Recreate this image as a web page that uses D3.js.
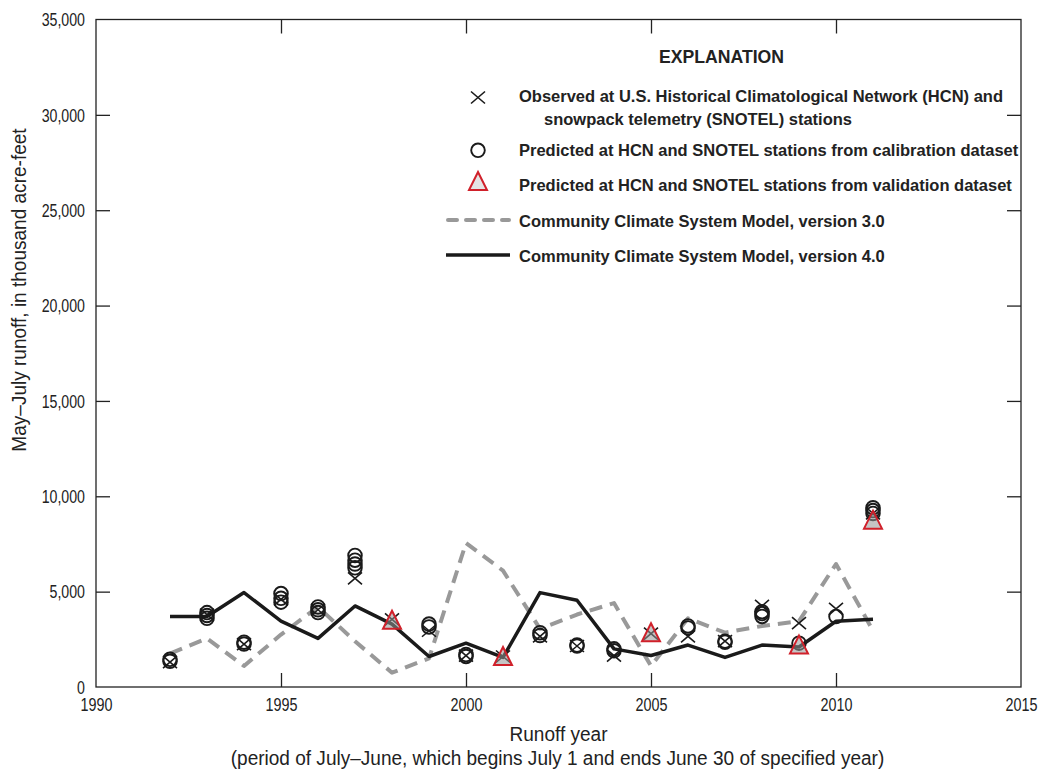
<!DOCTYPE html>
<html>
<head>
<meta charset="utf-8">
<script src="https://cdn.jsdelivr.net/npm/d3@7"></script>
<style>
  html, body { margin: 0; padding: 0; background: #fff; }
  svg { display: block; }
  text { font-family: "Liberation Sans", Arial, sans-serif; }
</style>
</head>
<body>
<svg id="chart" width="1039" height="769"></svg>
<script>
// Runoff years
const years = [1992, 1993, 1994, 1995, 1996, 1997, 1998, 1999, 2000, 2001,
               2002, 2003, 2004, 2005, 2006, 2007, 2008, 2009, 2010, 2011];

// Observed May–July runoff (thousand acre-feet)
const observed = [1300, 3800, 2250, 4600, 4050, 5700, 3550, 2950, 1650, 1600,
                  2650, 2150, 1650, 2800, 2650, 2400, 4250, 3350, 4100, 9100];

// Predicted from calibration dataset (several station models per year)
const calibYears = [1992, 1992, 1993, 1993, 1993, 1994, 1994, 1995, 1995, 1995,
                    1996, 1996, 1996, 1997, 1997, 1997, 1997, 1999, 1999, 2000,
                    2000, 2002, 2002, 2003, 2003, 2004, 2004, 2006, 2006, 2007,
                    2007, 2008, 2008, 2008, 2009, 2010, 2011, 2011, 2011];
const calibValues = [1350, 1450, 3600, 3750, 3900, 2250, 2350, 4450, 4650, 4900,
                     3900, 4050, 4200, 6250, 6450, 6650, 6900, 3150, 3300, 1600,
                     1700, 2700, 2850, 2150, 2200, 1900, 2000, 3100, 3200, 2350,
                     2400, 3700, 3850, 3950, 2300, 3700, 9100, 9250, 9400];

// Predicted from validation dataset
const validYears = [1998, 2001, 2005, 2009, 2011];
const validValues = [3500, 1600, 2850, 2200, 8750];

// Community Climate System Model runs
const ccsm3 = [1750, 2550, 1100, 2750, 4200, 2400, 750, 1500, 7550, 6100,
               3050, 3800, 4400, 1100, 3600, 2850, 3200, 3450, 6450, 2950];
const ccsm4 = [3700, 3700, 4950, 3450, 2550, 4250, 3300, 1600, 2300, 1550,
               4950, 4550, 2000, 1650, 2200, 1550, 2200, 2100, 3450, 3550];

// Axis ticks
const xTicks = [1990, 1995, 2000, 2005, 2010, 2015];
const yTicks = [0, 5000, 10000, 15000, 20000, 25000, 30000, 35000];

const svg = d3.select("#chart");
const W = 1039, H = 769;
const margin = { left: 96, right: 18, top: 19.5, bottom: 82 };
const ink = "#222";

const x = d3.scaleLinear().domain([1990, 2015]).range([margin.left, W - margin.right]);
const y = d3.scaleLinear().domain([0, 35000]).range([H - margin.bottom, margin.top]);

const fmt = d3.format(",");
const tickLen = 14;

// squeeze text elements horizontally for a condensed face
function condense(sel, k) {
  sel.each(function () {
    const w = this.getComputedTextLength();
    d3.select(this).attr("textLength", w * k).attr("lengthAdjust", "spacingAndGlyphs");
  });
}

// Frame
svg.append("rect")
  .attr("x", x(1990)).attr("y", y(35000))
  .attr("width", x(2015) - x(1990)).attr("height", y(0) - y(35000))
  .attr("fill", "none").attr("stroke", ink).attr("stroke-width", 1.3);

// Axes with inward ticks on all four sides
const gx = svg.append("g")
  .attr("transform", `translate(0,${y(0)})`)
  .call(d3.axisBottom(x).tickValues(xTicks).tickFormat(d3.format("d")).tickSize(-tickLen).tickPadding(12));
const gxTop = svg.append("g")
  .attr("transform", `translate(0,${y(35000)})`)
  .call(d3.axisTop(x).tickValues(xTicks).tickFormat("").tickSize(-tickLen));
const gy = svg.append("g")
  .attr("transform", `translate(${x(1990)},0)`)
  .call(d3.axisLeft(y).tickValues(yTicks).tickFormat(fmt).tickSize(-tickLen).tickPadding(11));
const gyR = svg.append("g")
  .attr("transform", `translate(${x(2015)},0)`)
  .call(d3.axisRight(y).tickValues(yTicks).tickFormat("").tickSize(-tickLen));

[gx, gxTop, gy, gyR].forEach(g => {
  g.select(".domain").remove();
  g.selectAll(".tick line").attr("stroke", ink).attr("stroke-width", 1.3);
  g.selectAll(".tick text").attr("fill", ink).attr("font-family", null).style("font-size", "17.5px");
});
gy.selectAll(".tick text").attr("dy", "0.36em");
condense(gx.selectAll(".tick text"), 0.82);
condense(gy.selectAll(".tick text"), 0.81);

// endpoint ticks coincide with the frame
[gx, gxTop].forEach(g => g.selectAll(".tick").filter(d => d === 1990 || d === 2015).select("line").remove());
[gy, gyR].forEach(g => g.selectAll(".tick").filter(d => d === 0 || d === 35000).select("line").remove());

// Axis titles, all in one condensed style
const midX = (x(1990) + x(2015)) / 2;
const titles = svg.append("g").attr("fill", ink).style("font-size", "19.5px");
const runoffTitle = titles.append("text")
  .attr("x", midX).attr("y", 741).attr("text-anchor", "middle")
  .text("Runoff year");
const periodTitle = titles.append("text")
  .attr("x", midX - 1).attr("y", 765).attr("text-anchor", "middle")
  .text("(period of July–June, which begins July 1 and ends June 30 of specified year)");
const yTitle = titles.append("text")
  .attr("transform", `translate(26,290) rotate(-90)`).attr("text-anchor", "middle")
  .text("May–July runoff, in thousand acre-feet");
const kTitle = 98 / runoffTitle.node().getComputedTextLength();
condense(titles.selectAll("text"), kTitle);

// Model lines
const line = d3.line().x((d, i) => x(years[i])).y(d => y(d));
svg.append("path").datum(ccsm3).attr("d", line)
  .attr("fill", "none").attr("stroke", "#999").attr("stroke-width", 4)
  .attr("stroke-dasharray", "13,8").attr("stroke-linejoin", "round");
svg.append("path").datum(ccsm4).attr("d", line)
  .attr("fill", "none").attr("stroke", "#1a1a1a").attr("stroke-width", 3.5)
  .attr("stroke-linejoin", "round");

// Marker shapes
const xMark = (g, cx, cy) => {
  const w = 7, h = 6;
  g.append("path")
    .attr("d", `M${cx - w},${cy - h}L${cx + w},${cy + h}M${cx - w},${cy + h}L${cx + w},${cy - h}`)
    .attr("stroke", "#1a1a1a").attr("stroke-width", 1.6).attr("fill", "none");
};
const circleMark = (g, cx, cy) => {
  g.append("circle").attr("cx", cx).attr("cy", cy).attr("r", 6.8)
    .attr("fill", "none").attr("stroke", "#1a1a1a").attr("stroke-width", 1.9);
};
const triMark = (g, cx, cy, fill) => {
  const s = 9;
  g.append("path")
    .attr("d", `M${cx},${cy - s * 1.05}L${cx + s},${cy + s * 0.95}L${cx - s},${cy + s * 0.95}Z`)
    .attr("fill", fill).attr("stroke", "#d0202a").attr("stroke-width", 2);
};

const marks = svg.append("g");
calibYears.forEach((yr, i) => circleMark(marks, x(yr), y(calibValues[i])));
years.forEach((yr, i) => xMark(marks, x(yr), y(observed[i])));
validYears.forEach((yr, i) => triMark(marks, x(yr), y(validValues[i]), "rgba(150,150,150,0.55)"));

// Legend
const leg = svg.append("g").attr("fill", ink).style("font-weight", "bold");
const head = leg.append("text").attr("x", 721.5).attr("y", 63).attr("text-anchor", "middle")
  .style("font-size", "18px").text("EXPLANATION");
head.attr("textLength", 125).attr("lengthAdjust", "spacingAndGlyphs");

const legRows = [
  ["Observed at U.S. Historical Climatological Network (HCN) and", 519, 102],
  ["snowpack telemetry (SNOTEL) stations", 544, 125],
  ["Predicted at HCN and SNOTEL stations from calibration dataset", 519, 156],
  ["Predicted at HCN and SNOTEL stations from validation dataset", 519, 191],
  ["Community Climate System Model, version 3.0", 519, 227],
  ["Community Climate System Model, version 4.0", 519, 262]
];
const legTexts = leg.selectAll("text.row").data(legRows).join("text")
  .attr("class", "row")
  .attr("x", d => d[1]).attr("y", d => d[2])
  .style("font-size", "16.5px").text(d => d[0]);
const kLeg = 484 / legTexts.node().getComputedTextLength();
condense(legTexts, kLeg);

xMark(svg, 478, 97.5);
circleMark(svg, 478, 150.3);
triMark(svg, 478, 181.5, "#e4e4e4");
svg.append("line").attr("x1", 448).attr("x2", 509).attr("y1", 220).attr("y2", 220)
  .attr("stroke", "#999").attr("stroke-width", 4).attr("stroke-dasharray", "9,9")
  .attr("stroke-linecap", "round");
svg.append("line").attr("x1", 446).attr("x2", 510).attr("y1", 255).attr("y2", 255)
  .attr("stroke", "#1a1a1a").attr("stroke-width", 3.5);
</script>
</body>
</html>
